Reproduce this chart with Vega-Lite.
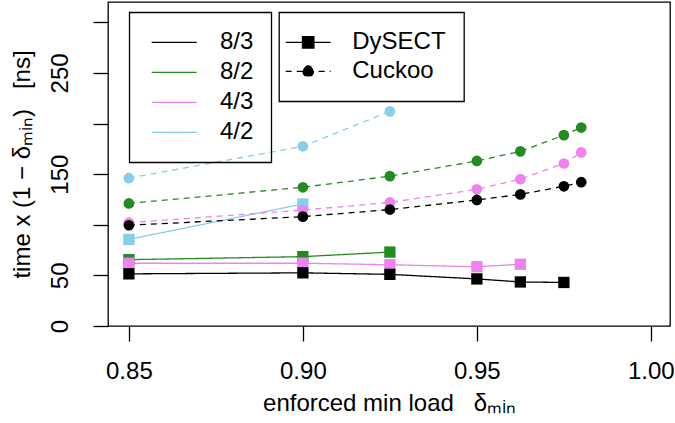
{
  "$schema": "https://vega.github.io/schema/vega-lite/v6.json",
  "width": 562,
  "height": 324,
  "autosize": {"type": "none"},
  "padding": {"left": 108, "top": 2, "right": 5, "bottom": 97},
  "background": "white",
  "config": {
    "font": "Liberation Sans",
    "view": {"stroke": "black", "strokeWidth": 1.3},
    "axis": {
      "domain": false,
      "grid": false,
      "tickColor": "black",
      "tickWidth": 1.3,
      "tickSize": 15,
      "labelFont": "Liberation Sans",
      "labelFontSize": 24,
      "labelColor": "black",
      "labelFlush": false,
      "labelOverlap": false,
      "labelBound": false,
      "titleFont": "Liberation Sans",
      "titleFontSize": 24,
      "titleFontWeight": "normal",
      "titleColor": "black"
    },
    "legend": {
      "labelFont": "Liberation Sans",
      "labelFontSize": 24,
      "labelColor": "black",
      "strokeColor": "black"
    }
  },
  "data": {
    "values": [
      {"variant": "4/2", "method": "DySECT", "load": 0.85, "time": 85.5},
      {"variant": "4/2", "method": "DySECT", "load": 0.90, "time": 120.5},
      {"variant": "4/2", "method": "Cuckoo", "load": 0.85, "time": 146},
      {"variant": "4/2", "method": "Cuckoo", "load": 0.90, "time": 177.5},
      {"variant": "4/2", "method": "Cuckoo", "load": 0.925, "time": 212},

      {"variant": "8/2", "method": "DySECT", "load": 0.85, "time": 65.5},
      {"variant": "8/2", "method": "DySECT", "load": 0.90, "time": 68.5},
      {"variant": "8/2", "method": "DySECT", "load": 0.925, "time": 73},
      {"variant": "8/2", "method": "Cuckoo", "load": 0.85, "time": 121},
      {"variant": "8/2", "method": "Cuckoo", "load": 0.90, "time": 137},
      {"variant": "8/2", "method": "Cuckoo", "load": 0.925, "time": 148},
      {"variant": "8/2", "method": "Cuckoo", "load": 0.95, "time": 163},
      {"variant": "8/2", "method": "Cuckoo", "load": 0.9625, "time": 172.5},
      {"variant": "8/2", "method": "Cuckoo", "load": 0.975, "time": 188.5},
      {"variant": "8/2", "method": "Cuckoo", "load": 0.98, "time": 196},

      {"variant": "4/3", "method": "DySECT", "load": 0.85, "time": 62},
      {"variant": "4/3", "method": "DySECT", "load": 0.90, "time": 62},
      {"variant": "4/3", "method": "DySECT", "load": 0.925, "time": 60.5},
      {"variant": "4/3", "method": "DySECT", "load": 0.95, "time": 58.5},
      {"variant": "4/3", "method": "DySECT", "load": 0.9625, "time": 61},
      {"variant": "4/3", "method": "Cuckoo", "load": 0.85, "time": 102},
      {"variant": "4/3", "method": "Cuckoo", "load": 0.90, "time": 114.5},
      {"variant": "4/3", "method": "Cuckoo", "load": 0.925, "time": 122},
      {"variant": "4/3", "method": "Cuckoo", "load": 0.95, "time": 135},
      {"variant": "4/3", "method": "Cuckoo", "load": 0.9625, "time": 145},
      {"variant": "4/3", "method": "Cuckoo", "load": 0.975, "time": 160.5},
      {"variant": "4/3", "method": "Cuckoo", "load": 0.98, "time": 171.5},

      {"variant": "8/3", "method": "DySECT", "load": 0.85, "time": 51.5},
      {"variant": "8/3", "method": "DySECT", "load": 0.90, "time": 52.5},
      {"variant": "8/3", "method": "DySECT", "load": 0.925, "time": 51},
      {"variant": "8/3", "method": "DySECT", "load": 0.95, "time": 46.5},
      {"variant": "8/3", "method": "DySECT", "load": 0.9625, "time": 43.5},
      {"variant": "8/3", "method": "DySECT", "load": 0.975, "time": 43},
      {"variant": "8/3", "method": "Cuckoo", "load": 0.85, "time": 99.5},
      {"variant": "8/3", "method": "Cuckoo", "load": 0.90, "time": 108},
      {"variant": "8/3", "method": "Cuckoo", "load": 0.925, "time": 115},
      {"variant": "8/3", "method": "Cuckoo", "load": 0.95, "time": 124.5},
      {"variant": "8/3", "method": "Cuckoo", "load": 0.9625, "time": 130},
      {"variant": "8/3", "method": "Cuckoo", "load": 0.975, "time": 138},
      {"variant": "8/3", "method": "Cuckoo", "load": 0.98, "time": 142}
    ]
  },
  "encoding": {
    "x": {
      "field": "load",
      "type": "quantitative",
      "scale": {"domain": [0.844, 1.0055], "nice": false, "zero": false},
      "axis": {
        "values": [0.85, 0.9, 0.95, 1.0],
        "format": ".2f",
        "labelPadding": 18,
        "title": "enforced min load\u00a0\u00a0\u00a0δₘᵢₙ",
        "titlePadding": 8
      }
    },
    "y": {
      "field": "time",
      "type": "quantitative",
      "scale": {"domain": [0, 320], "nice": false, "zero": false},
      "axis": {
        "values": [0, 50, 100, 150, 200, 250, 300],
        "labelExpr": "datum.value == 100 || datum.value == 200 || datum.value == 300 ? '' : datum.label",
        "labelAngle": -90,
        "labelAlign": "center",
        "labelBaseline": "bottom",
        "labelPadding": 21,
        "title": "time x (1 − δₘᵢₙ)\u00a0\u00a0\u00a0[ns]",
        "titlePadding": 14
      }
    },
    "color": {
      "field": "variant",
      "type": "nominal",
      "scale": {
        "domain": ["8/3", "8/2", "4/3", "4/2"],
        "range": ["#000000", "#228B22", "#EE82EE", "#87CEEB"]
      },
      "legend": null
    }
  },
  "layer": [
    {
      "mark": {"type": "line", "strokeWidth": 1.3},
      "encoding": {
        "color": {
          "field": "variant",
          "type": "nominal",
          "legend": {
            "orient": "none",
            "legendX": 21.3,
            "legendY": 10.3,
            "title": null,
            "padding": 18,
            "rowPadding": 6,
            "symbolType": "M-2.25,0H2.25",
            "symbolSize": 400,
            "symbolStrokeWidth": 1.3,
            "symbolOffset": 14.9,
            "labelOffset": 33.7,
            "encode": {
              "legend": {"update": {"strokeWidth": {"value": 1.3}}},
              "symbols": {"update": {"fill": {"value": "transparent"}, "opacity": {"value": 1}}}
            }
          }
        },
        "strokeDash": {
          "field": "method",
          "type": "nominal",
          "scale": {"domain": ["DySECT", "Cuckoo"], "range": [[1, 0], [6, 5]]},
          "legend": {
            "orient": "none",
            "legendX": 171,
            "legendY": 10.3,
            "title": null,
            "padding": 18,
            "rowPadding": 5,
            "symbolSize": 400,
            "symbolOffset": -0.8,
            "labelOffset": 32,
            "encode": {
              "legend": {"update": {"strokeWidth": {"value": 1.3}}},
              "symbols": {
                "update": {
                  "shape": {"signal": "datum.value === 'DySECT' ? 'M-2.25,0H2.25M-0.57,-0.57H0.57V0.57H-0.57Z' : 'M-2.25,0H2.25M0.53,0A0.53,0.53 0 1 1 -0.53,0A0.53,0.53 0 1 1 0.53,0Z'"},
                  "fill": {"value": "black"},
                  "stroke": {"value": "black"},
                  "strokeWidth": {"value": 1.3},
                  "opacity": {"value": 1}
                }
              }
            }
          }
        }
      }
    },
    {
      "transform": [{"filter": "datum.method === 'DySECT'"}],
      "mark": {"type": "point", "shape": "square", "filled": true, "opacity": 1, "size": 128}
    },
    {
      "transform": [{"filter": "datum.method === 'Cuckoo'"}],
      "mark": {"type": "point", "shape": "circle", "filled": true, "opacity": 1, "size": 115}
    }
  ]
}
